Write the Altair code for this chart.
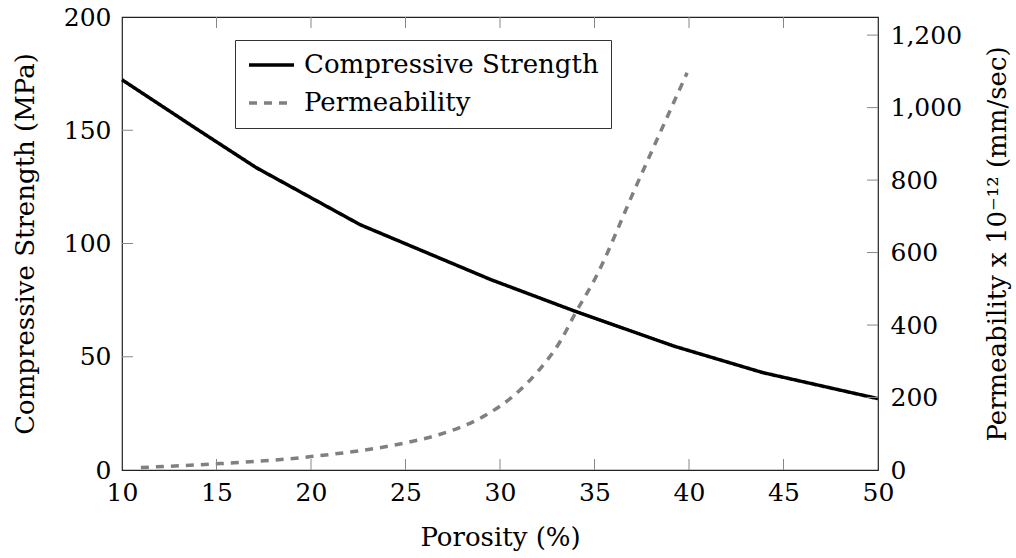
import altair as alt
import pandas as pd

# Compressive strength (MPa) against porosity (%)
porosity_strength = [10, 14, 17.1, 22.6, 29.5, 34, 39.2, 43.9, 50]
strength_mpa = [172.3, 150.3, 133.5, 108.3, 84.1, 70, 54.7, 43, 31.5]

# Permeability (x 10^-12 mm/sec) against porosity (%)
porosity_perm = [11, 15, 20, 25, 26.8, 29.3, 30.7, 32.1, 33.2, 34, 35, 37.2, 39.9]
permeability = [7, 17, 37, 75, 98, 153, 204, 278, 356, 434, 525, 783, 1096]

series_names = ["Compressive Strength", "Permeability"]

# Axis tick values
x_ticks = [10, 15, 20, 25, 30, 35, 40, 45, 50]
left_ticks = [0, 50, 100, 150, 200]
right_ticks = [0, 200, 400, 600, 800, 1000, 1200]

W, H = 756, 453
FONT = "DejaVu Serif"
TICK_LEN = 11
TICK_COLOR = "#888888"

strength_df = pd.DataFrame({"porosity": porosity_strength, "value": strength_mpa,
                            "series": series_names[0]})
perm_df = pd.DataFrame({"porosity": porosity_perm, "value": permeability,
                        "series": series_names[1]})

x_scale = alt.Scale(domain=[10, 50], nice=False, zero=False)
yl_scale = alt.Scale(domain=[0, 200], nice=False)
yr_scale = alt.Scale(domain=[0, 1250], nice=False)

legend = alt.Legend(title=None, orient="none", legendX=113, legendY=23)
color = alt.Color("series:N", scale=alt.Scale(domain=series_names, range=["#000000", "#808080"]),
                  legend=legend)
dash = alt.StrokeDash("series:N", scale=alt.Scale(domain=series_names, range=[[1, 0], [8, 7]]),
                      legend=legend)

x_axis = alt.Axis(values=x_ticks, title="Porosity (%)", ticks=False, domain=False, grid=False,
                  labelFlush=False, labelOverlap=False, labelPadding=10, titlePadding=19)
x_enc = alt.X("porosity:Q", scale=x_scale, axis=x_axis)

strength_line = alt.Chart(strength_df).mark_line(strokeWidth=3.5, strokeJoin="round").encode(
    x=x_enc,
    y=alt.Y("value:Q", scale=yl_scale,
            axis=alt.Axis(orient="left", values=left_ticks, title="Compressive Strength (MPa)",
                          ticks=False, domain=False, grid=False, labelOverlap=False,
                          labelPadding=11, titlePadding=25)),
    color=color,
    strokeDash=dash,
)

perm_line = alt.Chart(perm_df).mark_line(strokeWidth=3.5, interpolate="monotone").encode(
    x=x_enc,
    y=alt.Y("value:Q", scale=yr_scale,
            axis=alt.Axis(orient="right", values=right_ticks, format=",.0f",
                          title="Permeability x 10⁻¹² (mm/sec)", titleAngle=270,
                          titleBaseline="top",
                          ticks=False, domain=False, grid=False, labelOverlap=False,
                          labelPadding=12, titlePadding=23)),
    color=color,
    strokeDash=dash,
)

# Inward tick marks on all four sides of the frame
inner_x = pd.DataFrame({"porosity": x_ticks[1:-1]})
inner_left = pd.DataFrame({"t": left_ticks[1:-1]})
inner_right = pd.DataFrame({"t": right_ticks[1:]})

tick_rule = dict(color=TICK_COLOR, strokeWidth=1)
bottom_ticks = alt.Chart(inner_x).mark_rule(**tick_rule).encode(
    x=x_enc, y=alt.value(H - TICK_LEN), y2=alt.value(H))
top_ticks = alt.Chart(inner_x).mark_rule(**tick_rule).encode(
    x=x_enc, y=alt.value(0), y2=alt.value(TICK_LEN))
left_tick_marks = alt.Chart(inner_left).mark_rule(**tick_rule).encode(
    y=alt.Y("t:Q", scale=yl_scale, axis=None), x=alt.value(0), x2=alt.value(TICK_LEN))
right_tick_marks = alt.Chart(inner_right).mark_rule(**tick_rule).encode(
    y=alt.Y("t:Q", scale=yr_scale, axis=None), x=alt.value(W - TICK_LEN), x2=alt.value(W))

chart = alt.layer(
    strength_line, perm_line, bottom_ticks, top_ticks, left_tick_marks, right_tick_marks
).resolve_scale(
    y="independent"
).properties(
    width=W, height=H,
    autosize=alt.AutoSizeParams(type="none"),
    padding={"left": 122, "top": 17, "right": 1016 - 122 - W, "bottom": 558 - 17 - H},
    background="white",
).configure_view(
    stroke="#222222", strokeWidth=1.2,
).configure_axis(
    labelFont=FONT, labelFontSize=25, labelColor="#000000",
    titleFont=FONT, titleFontSize=26, titleColor="#000000", titleFontWeight="normal",
).configure_legend(
    labelFont=FONT, labelFontSize=26, labelColor="#000000", labelLimit=500,
    symbolType="stroke", symbolSize=2025, symbolStrokeWidth=3.5, labelOffset=8,
    strokeColor="#333333", fillColor="#ffffff", padding=12, rowPadding=12, clipHeight=26,
)

chart.save("out.html", embed_options={"renderer": "svg", "actions": False})
